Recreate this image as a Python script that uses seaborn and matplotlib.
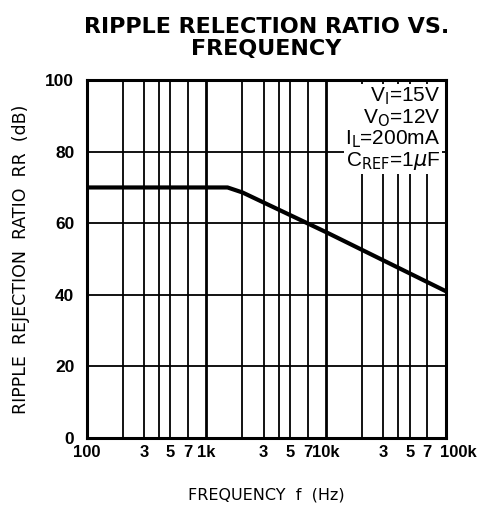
import numpy as np
import pandas as pd
import matplotlib
matplotlib.use('Agg')
import matplotlib.pyplot as plt
import matplotlib.transforms as mtransforms
import seaborn as sns

# data
freq_hz = [100, 1000, 1500, 2000, 10000, 100000]
ripple_db = [70, 70, 70, 68.6, 57.5, 41]

major_freqs = [100, 1000, 10000, 100000]
major_labels = ['100', '1k', '10k', '100k']
minor_mult = [2, 3, 4, 5, 7]
labeled_mult = [3, 5, 7]
y_ticks = [0, 20, 40, 60, 80, 100]

conditions = [r'V$_{\mathrm{I}}$=15V', r'V$_{\mathrm{O}}$=12V',
              r'I$_{\mathrm{L}}$=200mA', r'C$_{\mathrm{REF}}$=1$\mu$F']

sns.set_style('white')
plt.rcParams['font.family'] = ['Liberation Sans', 'DejaVu Sans']
for key in ['text.color', 'axes.labelcolor', 'xtick.color', 'ytick.color']:
    plt.rcParams[key] = 'black'

df = pd.DataFrame({'f': freq_hz, 'rr': ripple_db})

fig = plt.figure(figsize=(4.82, 5.17), dpi=100)
ax = fig.add_axes([0.180, 0.153, 0.745, 0.692])

# grid lines
for dec in major_freqs[:-1]:
    for m in minor_mult:
        ax.axvline(dec * m, color='black', lw=1.3, zorder=1)
for dec in major_freqs[1:-1]:
    ax.axvline(dec, color='black', lw=2.0, zorder=1)
for yv in y_ticks[1:-1]:
    ax.axhline(yv, color='black', lw=1.3, zorder=1)

sns.lineplot(data=df, x='f', y='rr', ax=ax, color='black', lw=3.0, zorder=3)

ax.set_xscale('log')
ax.set_xlim(100, 100000)
ax.set_ylim(0, 100)

# x tick labels: decades plus 3, 5, 7
xt, xl = [], []
for i, dec in enumerate(major_freqs):
    xt.append(dec)
    xl.append(major_labels[i])
    if dec < major_freqs[-1]:
        for m in labeled_mult:
            xt.append(dec * m)
            xl.append(str(m))
ax.set_xticks(xt)
ax.set_xticklabels(xl)
ax.xaxis.set_minor_locator(matplotlib.ticker.NullLocator())
ax.set_yticks(y_ticks)
ax.tick_params(axis='x', length=0, labelsize=12, pad=5)
ax.tick_params(axis='y', length=0, labelsize=12.5, pad=9)
for lab in ax.get_xticklabels() + ax.get_yticklabels():
    lab.set_fontweight('bold')
# nudge the last decade label right, as in the reference
last = ax.get_xticklabels()[-1]
last.set_transform(last.get_transform() +
                   mtransforms.ScaledTranslation(9 / 72, 0, fig.dpi_scale_trans))

for sp in ax.spines.values():
    sp.set_visible(True)
    sp.set_color('black')
    sp.set_linewidth(2.2)

ax.set_xlabel('FREQUENCY  f  (Hz)', fontsize=11.5, labelpad=20,
              family=['DejaVu Sans'])
ax.set_ylabel('RIPPLE  REJECTION  RATIO  RR  (dB)', fontsize=12.5,
              labelpad=11, family=['DejaVu Sans'])
ax.set_title('RIPPLE RELECTION RATIO VS.\nFREQUENCY', fontsize=16,
             fontweight='bold', pad=18, linespacing=1.15,
             family=['DejaVu Sans'])

ax.text(0.985, 0.985, '\n'.join(conditions), transform=ax.transAxes,
        ha='right', va='top', fontsize=15, linespacing=1.0, zorder=4,
        bbox=dict(facecolor='white', edgecolor='none', pad=1))

fig.savefig('out.png', dpi=100)
